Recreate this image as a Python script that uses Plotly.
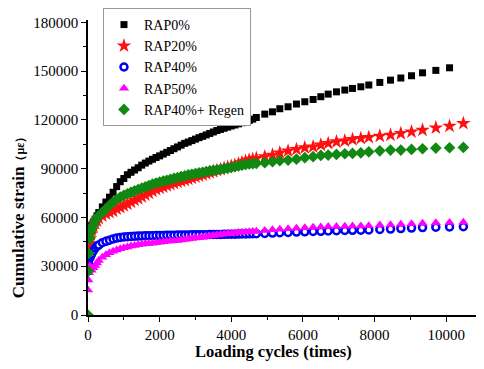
import plotly.graph_objects as go

cycles = [0, 10, 25, 50, 75, 100, 150, 200, 250, 300, 400, 500, 600, 700, 800, 900,
          1000, 1100, 1200, 1300, 1400, 1500, 1600, 1700, 1800, 1900, 2000, 2100,
          2200, 2300, 2400, 2500, 2600, 2700, 2800, 2900, 3000, 3100, 3200, 3300,
          3400, 3500, 3600, 3700, 3800, 3900, 4000, 4100, 4200, 4300, 4400, 4500,
          4600, 4700, 4935, 5150, 5355, 5586, 5820, 6053, 6285, 6500, 6706, 6937,
          7170, 7385, 7617, 7840, 8147, 8446, 8734, 9032, 9340, 9711, 10094, 10480]

rap0 = [32000, 40000, 46000, 50000, 53000, 55000, 57000, 59000, 61000, 63000, 66500,
        69500, 72500, 75500, 79000, 82000, 84000, 86300, 87800, 89200, 90600, 92200,
        93500, 94700, 95800, 96900, 97900, 99000, 100100, 101200, 102300, 103400,
        104500, 105600, 106400, 107300, 108200, 109100, 109900, 110800, 111700,
        112600, 113500, 114200, 114900, 115600, 116300, 116900, 117600, 118300,
        119000, 119700, 120500, 121500, 123600, 125000, 126900, 128100, 129800,
        131200, 132600, 134300, 135900, 137300, 138400, 139400, 140400, 141500,
        143100, 144500, 145800, 147200, 149000, 150500, 152100]

rap20 = [33000, 40000, 44000, 47000, 49500, 52000, 54500, 56500, 58000, 59500, 61000,
         62300, 63200, 64000, 65300, 66300, 67300, 68300, 69500, 70700, 71700, 72800,
         73900, 75100, 76300, 77300, 78100, 78900, 79700, 80400, 81100, 81800, 82400,
         83000, 83700, 84300, 85000, 85700, 86300, 87000, 87600, 88300, 89000, 89600,
         90300, 90900, 91600, 92200, 93000, 93800, 94600, 95400, 95900, 96400, 97400,
         98400, 99800, 101000, 101900, 102900, 103500, 104600, 105600, 106600, 107200,
         108000, 108700, 109300, 110100, 110700, 111700, 112700, 113800, 115200,
         116200, 117900]

rap40 = [30700, 32000, 34000, 35500, 36500, 37500, 39500, 41200, 42300, 43000, 44500,
         45300, 46000, 46800, 47300, 47700, 48000, 48200, 48350, 48450, 48550, 48650,
         48700, 48750, 48800, 48850, 48900, 48950, 49000, 49050, 49100, 49150, 49200,
         49200, 49250, 49300, 49350, 49400, 49400, 49450, 49500, 49550, 49600, 49600,
         49650, 49700, 49700, 49750, 49800, 49850, 49900, 49950, 50000, 50050, 50200,
         50400, 50600, 50800, 51000, 51200, 51400, 51500, 51700, 51900, 52000, 52100,
         52200, 52300, 52600, 52900, 53200, 53500, 53800, 54000, 54200, 54300]

rap50 = [15400, 21500, 26000, 30000, 29000, 27500, 29000, 30500, 32000, 33500, 35500,
         37000, 38300, 39200, 40000, 40700, 41300, 41900, 42400, 42800, 43200, 43500,
         43800, 44000, 44200, 44500, 44800, 45100, 45300, 45500, 45700, 45900, 46100,
         46400, 46700, 47000, 47300, 47600, 47900, 48300, 48600, 48900, 49200, 49500,
         49800, 50100, 50300, 50500, 50700, 50900, 51100, 51200, 51400, 51600, 52000,
         52400, 52700, 53000, 53400, 53700, 54000, 54200, 54400, 54500, 54600, 54700,
         54800, 54900, 55300, 55600, 55900, 56200, 56500, 56700, 56900, 57000]

rap40_regen = [0, 27000, 38000, 47000, 51000, 53000, 55500, 58000, 60000, 61000, 63200,
               65300, 67500, 69500, 71200, 72500, 73600, 74600, 75500, 76400, 77200,
               78000, 78800, 79600, 80500, 81200, 81800, 82400, 82900, 83500, 84000,
               84600, 85100, 85600, 86200, 86600, 87000, 87400, 87800, 88300, 88700,
               89000, 89300, 89600, 90000, 90400, 90800, 91200, 91700, 92200, 92600,
               92900, 93100, 93300, 93700, 94300, 94900, 95300, 95900, 96800, 97400,
               98200, 98400, 98800, 99200, 99400, 99800, 100400, 101000, 101500,
               101500, 101900, 102300, 102700, 102900, 103100]

x_ticks = [0, 2000, 4000, 6000, 8000, 10000]
y_ticks = [0, 30000, 60000, 90000, 120000, 150000, 180000]

series = [
    ("RAP0%", rap0, dict(symbol="square", size=7, color="black")),
    ("RAP20%", rap20, dict(symbol="star", size=11, color="#ff1010")),
    ("RAP40%", rap40, dict(symbol="circle", size=7, color="white",
                            line=dict(color="#0000ee", width=2.5))),
    ("RAP50%", rap50, dict(symbol="triangle-up", size=9, color="#ff00ff")),
    ("RAP40%+ Regen", rap40_regen, dict(symbol="diamond", size=9, color="#118811")),
]

fig = go.Figure()
for name, vals, mk in series:
    fig.add_trace(go.Scatter(x=cycles[:len(vals)], y=vals, mode="markers",
                             name=name, marker=mk))

font_family = "Liberation Serif, Times New Roman, serif"
# page body has an 8px margin, so the figure is drawn 8px in from the top-left
fig.update_layout(
    width=476, height=361,
    margin=dict(l=80, r=2, t=12, b=54, autoexpand=False),
    paper_bgcolor="white", plot_bgcolor="white",
    font=dict(family=font_family, color="black", size=15),
    showlegend=True,
    legend=dict(x=0.038, y=1.0407, xanchor="left", yanchor="top",
                bordercolor="#999999", borderwidth=1, bgcolor="white",
                font=dict(family=font_family, size=14, color="black"),
                tracegroupgap=0, itemwidth=30),
    xaxis=dict(range=[0, 11000], tickvals=x_ticks, ticktext=[str(v) for v in x_ticks],
               showline=True, linecolor="black", linewidth=1.5,
               ticks="outside", ticklen=5, tickwidth=1.2, tickcolor="black",
               minor=dict(dtick=1000, ticks="outside", ticklen=3, tickcolor="black"),
               showgrid=False, zeroline=False, automargin=False,
               tickfont=dict(family=font_family, size=15)),
    yaxis=dict(range=[0, 181500], tickvals=y_ticks, ticktext=[str(v) for v in y_ticks],
               showline=True, linecolor="black", linewidth=1.5,
               ticks="outside", ticklen=5, tickwidth=1.2, tickcolor="black",
               minor=dict(dtick=15000, ticks="outside", ticklen=3, tickcolor="black"),
               showgrid=False, zeroline=False, automargin=False,
               tickfont=dict(family=font_family, size=15)),
    annotations=[
        dict(text="<b>Loading cycles (times)</b>", xref="paper", yref="paper",
             x=0.47, y=-0.125, xanchor="center", yanchor="middle", showarrow=False,
             font=dict(family=font_family, size=16.5, color="black")),
        dict(text="<b>Cumulative strain<span style='font-size:12px'>（με）</span></b>",
             xref="paper", yref="paper", x=-0.176, y=0.34, xanchor="center",
             yanchor="middle", textangle=-90, showarrow=False,
             font=dict(family=font_family, size=17, color="black")),
    ],
)

fig.write_html("out.html")
